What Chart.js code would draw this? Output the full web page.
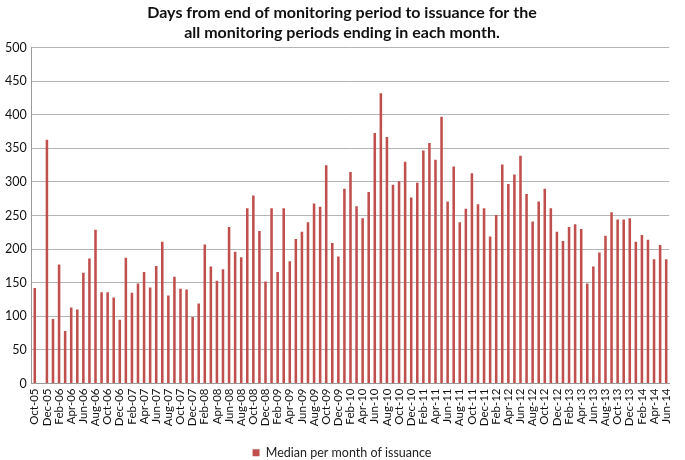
<!DOCTYPE html>
<html>
<head>
<meta charset="utf-8">
<script src="https://cdn.jsdelivr.net/npm/chart.js@4.4.1/dist/chart.umd.min.js"></script>
<style>
html,body{margin:0;padding:0;background:#fff;}
#wrap{width:685px;height:460px;}
</style>
</head>
<body>
<div id="wrap"><canvas id="c" width="685" height="460"></canvas></div>
<script>
const monthNames = ["Jan","Feb","Mar","Apr","May","Jun","Jul","Aug","Sep","Oct","Nov","Dec"];
const startYear = 2005, startMonth = 9; // Oct-05
const seriesName = "Median per month of issuance";
const medianDays = [
  142, null, 363, 96, 177, 78, 113, 110, 165, 186, 229, 136, 136, 128, 95, 187, 135, 149, 166, 143, 175, 211, 131, 159,
  141, 140, 99, 119, 207, 174, 153, 170, 233, 196, 188, 261, 280, 227, 152, 261, 166, 261, 182, 215, 226, 240, 268, 263, 325, 209, 189,
  290, 315, 264, 246, 285, 373, 432, 367, 296, 301, 330, 277, 299, 347, 358, 333, 397, 271, 323, 240, 260, 313, 267, 261, 219, 251, 326,
  297, 311, 339, 282, 241, 271, 290, 261, 226, 212, 233, 237, 230, 149, 174, 195, 220, 255, 244, 244, 246, 211, 221, 214, 185, 206, 185
];
const categories = medianDays.map((_, i) => {
  const m = (startMonth + i) % 12;
  const y = startYear + Math.floor((startMonth + i) / 12);
  return monthNames[m] + "-" + String(y % 100).padStart(2, "0");
});
const titleLines = ["Days from end of monitoring period to issuance for the", "all monitoring periods ending in each month."];

const legendShift = {
  id: "legendShift",
  beforeLayout(chart) {
    const lg = chart.legend;
    if (lg && !lg._patched) {
      const f = lg.fit;
      lg.fit = function() { f.call(this); this.height -= 9; };
      lg._patched = true;
    }
  }
};

new Chart(document.getElementById("c"), {
  type: "bar",
  data: {
    labels: categories,
    datasets: [{
      label: seriesName,
      data: medianDays,
      backgroundColor: "#C0504D",
      borderWidth: 0,
      barPercentage: 0.42,
      categoryPercentage: 1.0
    }]
  },
  plugins: [legendShift],
  options: {
    responsive: false,
    animation: false,
    layout: { padding: { left: 0, right: 1, top: 1, bottom: 0 } },
    plugins: {
      title: {
        display: true,
        text: titleLines,
        color: "#111",
        font: { family: "Lato", size: 16, weight: "bold", lineHeight: 1.3 },
        padding: { top: 1, bottom: 4 }
      },
      legend: {
        position: "bottom",
        labels: {
          color: "#222",
          font: { family: "Lato", size: 12.5 },
          boxWidth: 7, boxHeight: 7,
          padding: 2
        }
      },
      tooltip: { enabled: false }
    },
    scales: {
      x: {
        grid: { display: false, drawTicks: false },
        border: { color: "#9A9A9A" },
        afterFit: function(scale) { scale.height = 61; },
        ticks: {
          autoSkip: false,
          minRotation: 90, maxRotation: 90,
          color: "#111",
          font: { family: "Lato", size: 11.5 },
          padding: 5,
          callback: function(v, i) { return i % 2 === 0 ? categories[i] : ""; }
        }
      },
      y: {
        min: 0, max: 500,
        ticks: { stepSize: 50, color: "#111", font: { family: "Lato", size: 12.5 }, padding: 5 },
        grid: { color: "#B4B4B4", drawTicks: false },
        border: { color: "#9A9A9A" }
      }
    }
  }
});
</script>
</body>
</html>
